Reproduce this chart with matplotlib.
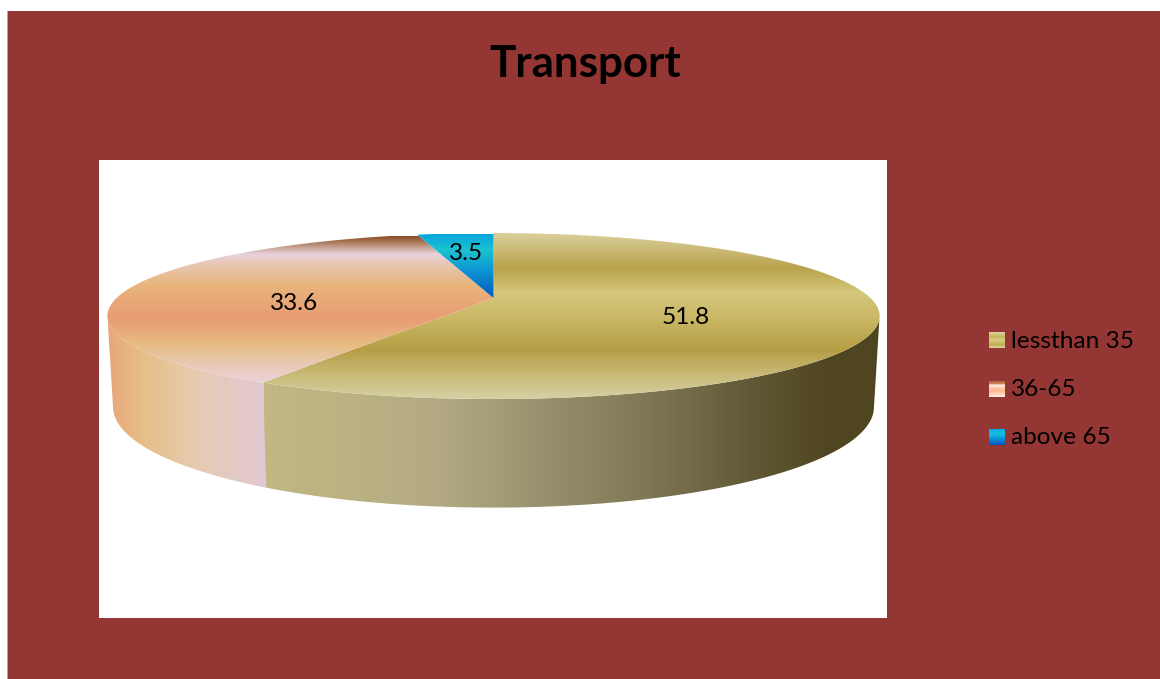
import numpy as np
import matplotlib
matplotlib.use("Agg")
import matplotlib.pyplot as plt
from matplotlib.colors import LinearSegmentedColormap
from matplotlib.patches import Polygon, Rectangle

plt.rcParams['font.family'] = ['Lato', 'DejaVu Sans']

title = "Transport"
categories = ["lessthan 35", "36-65", "above 65"]
values = [51.8, 33.6, 3.5]

BACKGROUND = "#943634"

# Gradient stops: (pixel position, colour) along the surface's y or x direction
top_stops = [
    [(233, "#dbd09c"), (268, "#b9a24c"), (292, "#d4c77c"), (318, "#c9b866"),
     (350, "#b69e45"), (375, "#c8bb78"), (399, "#d6d0a4")],
    [(236, "#8a4a20"), (244, "#b58a70"), (254, "#e8d2dc"), (265, "#e8c6b0"),
     (285, "#e8b57c"), (318, "#e99b74"), (345, "#e8bc84"), (362, "#e8c8b0"),
     (382, "#ecd2d8")],
    [(234, "#08a4de"), (250, "#1cc2d0"), (270, "#0e96d4"), (298, "#0058bc")],
]
wall_stops = [
    [(264, "#c2b882"), (440, "#b3aa84"), (530, "#9c9470"), (650, "#7f7753"),
     (760, "#5f5733"), (830, "#4f4520"), (880, "#4f4620")],
    [(107, "#e8a67a"), (145, "#e6c088"), (200, "#e6ccb4"), (268, "#e0c8d4")],
]
swatch_stops = [
    [(0.0, "#dcd29c"), (0.3, "#c6b45c"), (0.5, "#d8cc84"), (0.8, "#c0ac50"), (1.0, "#dcd6a8")],
    [(0.0, "#b06a3c"), (0.15, "#c07a4c"), (0.25, "#fff0e8"), (0.55, "#ffb488"), (0.8, "#ffd0b0"), (1.0, "#fff4f0")],
    [(0.0, "#08aae6"), (0.3, "#14c4dc"), (0.6, "#0a94d8"), (1.0, "#0058c0")],
]


def ramp(stops):
    lo, hi = stops[0][0], stops[-1][0]
    return LinearSegmentedColormap.from_list(
        "ramp", [((p - lo) / (hi - lo), c) for p, c in stops], N=512
    )


class Disc:
    """Circle seen in perspective: unit-circle angles map to picture pixels."""

    TILT = 0.217

    def __init__(self, cx, cy, rx, ry):
        self.cx, self.cy, self.rx, self.ry = cx, cy, rx, ry

    def at(self, angle):
        u, v = np.sin(angle), -np.cos(angle)
        d = 1 - self.TILT * v
        return np.column_stack([self.cx + self.rx * u / d, self.cy + self.ry * v / d])


def fill(ax, points, stops, axis, zorder):
    lo, hi = stops[0][0], stops[-1][0]
    grad = np.linspace(0, 1, 512)
    if axis == "y":
        extent = (points[:, 0].min() - 1, points[:, 0].max() + 1, hi, lo)
        grad = grad[:, None]
    else:
        extent = (lo, hi, points[:, 1].max() + 1, points[:, 1].min() - 1)
        grad = grad[None, :]
    im = ax.imshow(grad, cmap=ramp(stops), extent=extent, aspect="auto",
                   interpolation="bilinear", zorder=zorder)
    patch = Polygon(points, closed=True, transform=ax.transData,
                    facecolor="none", edgecolor="none")
    ax.add_patch(patch)
    im.set_clip_path(patch)


fig = plt.figure(figsize=(11.6, 6.79), dpi=100, facecolor="white")
ax = fig.add_axes([0, 0, 1, 1])
ax.set_axis_off()

ax.add_patch(Rectangle((8, 11), 1152, 668, facecolor=BACKGROUND, edgecolor="none", zorder=1))
ax.add_patch(Rectangle((7, 11), 1, 668, facecolor="#c99b9a", edgecolor="none", zorder=1))
ax.add_patch(Rectangle((99, 160), 788, 458, facecolor="white", edgecolor="none", zorder=2))

top = Disc(493.5, 298, 376.9, 79.1)
bottom = Disc(493.5, 385, 371.4, 96)

# Slice boundaries, clockwise from twelve o'clock
total = sum(values)
edges = 2 * np.pi * np.concatenate([[0], np.cumsum(values)]) / total
right_limb = np.arccos(-Disc.TILT)
left_limb = 2 * np.pi - right_limb

# Side walls of the two slices facing the viewer; the second runs slightly
# under the first so no gap shows along their shared seam
wall_spans = [(right_limb, edges[1]), (edges[1] - 0.01, left_limb)]
wall_layers = [3.2, 3.0]
for (a, b), stops, layer in zip(wall_spans, wall_stops, wall_layers):
    t = np.linspace(a, b, 200)
    fill(ax, np.vstack([top.at(t), bottom.at(t[::-1])]), stops, "x", layer)

# Top surface of every slice
apex = np.array([[top.cx, top.cy]])
for i, stops in enumerate(top_stops):
    t = np.linspace(edges[i], edges[i + 1], 300)
    fill(ax, np.vstack([apex, top.at(t)]), stops, "y", 3.5)

ax.text(585, 63.5, title, ha="center", va="center", fontsize=31.7, fontweight="bold",
        color="black", zorder=5)

label_positions = [(686, 318), (294, 303.5), (466, 254)]
for v, (x, y) in zip(values, label_positions):
    ax.text(x, y, f"{v}", ha="center", va="center", fontsize=17.6, color="black", zorder=5)

legend_rows = [340, 389, 437]
for name, y, stops in zip(categories, legend_rows, swatch_stops):
    ax.imshow(np.linspace(0, 1, 64)[:, None], cmap=ramp(stops),
              extent=(989, 1005, y + 8, y - 8), aspect="auto", zorder=4)
    ax.text(1011, y + 1, name, ha="left", va="center", fontsize=17.6, color="black", zorder=5)

ax.set_xlim(0, 1160)
ax.set_ylim(679, 0)
fig.savefig("out.png", dpi=100)
